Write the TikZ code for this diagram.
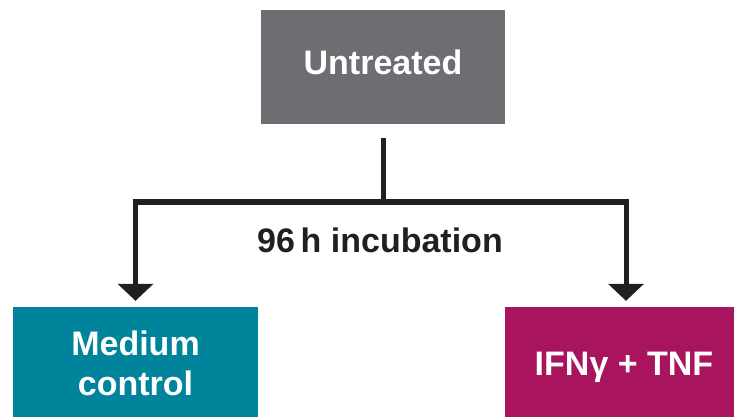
\documentclass[tikz,border=0pt]{standalone}
\usepackage{fontspec}
\setmainfont{Liberation Sans}
\usepackage{tikz}
\usetikzlibrary{arrows.meta,calc,positioning}
\definecolor{boxgray}{HTML}{6D6E71}
\definecolor{boxteal}{HTML}{00849B}
\definecolor{boxmagenta}{HTML}{A9145F}
\definecolor{linedark}{HTML}{231F20}

\begin{document}
\begin{tikzpicture}[x=1pt, y=-1pt,
		block/.style={rectangle, inner sep=0pt, text=white,
			font=\fontsize{34}{40}\selectfont\bfseries, align=center},
		link/.style={draw=linedark, line width=5pt},
		arrow/.style={link, -{Triangle[width=35pt,length=17pt]}},
		label/.style={text=linedark, font=\fontsize{34}{40}\selectfont\bfseries,
			inner sep=0pt, text depth=0pt}
		]

		\clip (0,0) rectangle (734,417);
		\useasboundingbox (0,0) rectangle (734,417);

		% --- Boxes ---
		\node[block, fill=boxgray, minimum width=244pt, minimum height=114pt,
			text height=25pt, text depth=9pt] (untr) at (383,67) {Untreated};
		\node[block, fill=boxteal, minimum width=245pt, minimum height=112pt]
			(medium) at (135.5,363) {Medium\\control};
		\node[block, fill=boxmagenta, minimum width=238pt, minimum height=112pt,
			text height=25pt, text depth=1pt] (ifn) at (624,363) {IFNγ + TNF};

		% --- Connectors ---
		\coordinate (split) at (383,202);
		\draw[link] ([yshift=-14pt]untr.south) -- (split);
		\draw[arrow] (split) -| ([yshift=6pt]medium.north);
		\draw[arrow] (split) -| ([yshift=6pt, xshift=2pt]ifn.north);

		\node[label] (incub) at (380,240) {96\,h incubation};

	\end{tikzpicture}
\end{document}
